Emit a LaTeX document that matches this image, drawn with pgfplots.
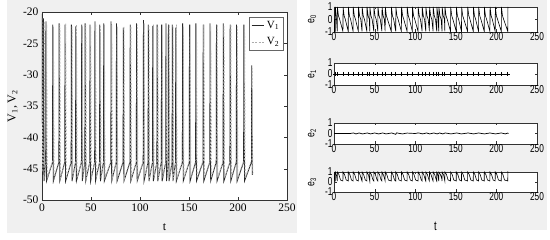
\documentclass[border=0pt]{standalone}
\usepackage{pgfplots}
\pgfplotsset{compat=1.18}
\usepackage{fontspec}
\setmainfont{Liberation Serif}
\newfontfamily\rsans[FakeStretch=0.72]{Liberation Sans}

\pgfplotsset{
  mlab/.style={
    scale only axis, xmin=0, xmax=250, xtick={0,50,...,250},
    tick align=inside, axis line style={black!80}, tick style={black!80},
    axis background/.style={fill=white},
    /pgf/number format/assume math mode=true,
  },
  small/.style={
    mlab, width=203pt, ymin=-1, ymax=1, ytick={-1,0,1},
    major tick length=2.5pt,
    ticklabel style={font=\rsans\fontsize{11.5}{11.5}\selectfont, inner xsep=1.2pt, inner ysep=0.4pt,
      text height=8pt, text depth=0pt},
    every axis y label/.style={at={(axis description cs:-0.108,0.5)}, rotate=90, anchor=center, font=\rsans\fontsize{12}{12}\selectfont},
  },
}

\begin{document}
\begin{tikzpicture}
\useasboundingbox (0,0) rectangle (550pt,240pt);
\fill[gray!12] (7pt,7pt) rectangle (297pt,240pt);
\fill[gray!12] (310pt,10pt) rectangle (547pt,240pt);

% left: membrane potentials
\begin{axis}[mlab, at={(42pt,40pt)}, anchor=south west,
    width=245pt, height=188pt,
    ymin=-50, ymax=-20, ytick={-50,-45,...,-20},
    major tick length=3pt,
    ticklabel style={font=\fontsize{11.5}{11.5}\selectfont},
    xlabel={t}, ylabel={V\textsubscript{1}, V\textsubscript{2}},
    label style={font=\fontsize{12}{12}\selectfont},
    xlabel style={at={(axis description cs:0.5,-0.145)}, anchor=center},
    ylabel style={at={(axis description cs:-0.12,0.5)}, anchor=center},
    legend style={at={(0.985,0.975)}, anchor=north east, draw=black!60,
      font=\fontsize{11}{11}\selectfont, inner sep=2pt, row sep=4pt},
    legend cell align=left,
    legend image post style={xscale=0.75},
]
\addplot[black!85, line width=0.8pt] coordinates {
(0,-20.3) (0.6,-46) (1.2,-44) (1.5,-21) (2.1,-47) (3.7,-44) (4,-21.5) (4.6,-47)
(10.7,-44) (11,-22) (11.6,-47)
(17.2,-44) (17.5,-21.8) (18.1,-47)
(23.2,-44) (23.5,-22) (24.1,-47)
(29.7,-44) (30,-22) (30.6,-47)
(34.2,-44) (34.5,-22.3) (35.1,-47)
(40.2,-44) (40.5,-22) (41.1,-47)
(43.7,-44) (44,-21.8) (44.6,-47)
(48.7,-44) (49,-22) (49.6,-47)
(53.7,-44) (54,-21.5) (54.6,-47)
(58.7,-44) (59,-22) (59.6,-47)
(62.7,-44) (63,-21.8) (63.6,-47)
(70.2,-44) (70.5,-21.5) (71.1,-47)
(75.7,-44) (76,-21.8) (76.6,-47)
(82.7,-44) (83,-22.5) (83.6,-47)
(89.7,-44) (90,-22) (90.6,-47)
(96.2,-44) (96.5,-21.8) (97.1,-47)
(103.2,-44) (103.5,-21.3) (104.1,-47)
(108.2,-44) (108.5,-22) (109.1,-47)
(112.7,-44) (113,-22.2) (113.6,-47)
(117.2,-44) (117.5,-22) (118.1,-47)
(121.7,-44) (122,-22) (122.6,-47)
(126.2,-44) (126.5,-21.8) (127.1,-47)
(128.7,-44) (129,-22) (129.6,-47)
(132.7,-44) (133,-22) (133.6,-47)
(136.2,-44) (136.5,-22.5) (137.1,-47)
(143.2,-44) (143.5,-21.8) (144.1,-47)
(150.2,-44) (150.5,-22) (151.1,-47)
(156.7,-44) (157,-21.8) (157.6,-47)
(164.2,-44) (164.5,-22) (165.1,-47)
(171.2,-44) (171.5,-21.8) (172.1,-47)
(177.7,-44) (178,-22) (178.6,-47)
(184.7,-44) (185,-21.8) (185.6,-47)
(191.7,-44) (192,-22) (192.6,-47)
(198.2,-44) (198.5,-22) (199.1,-47)
(205.7,-44) (206,-22) (206.6,-47)
(213.7,-44) (214,-28.5) (214.6,-46) (215,-45.5)
};
\addlegendentry{V\textsubscript{1}}
\addplot[gray!65, line width=0.8pt, dash pattern=on 2pt off 1.5pt] coordinates {
(0,-21) (0.7,-45.5) (1.9,-43.5) (2.2,-21.5) (2.8,-46.5) (4.4,-43.5) (4.7,-22) (5.3,-46.5)
(11.4,-43.5) (11.7,-22.3) (12.3,-46.5)
(17.9,-43.5) (18.2,-22) (18.8,-46.5)
(23.9,-43.5) (24.2,-21.8) (24.8,-46.5)
(30.4,-43.5) (30.7,-22.3) (31.3,-46.5)
(34.9,-43.5) (35.2,-22) (35.8,-46.5)
(40.9,-43.5) (41.2,-22.3) (41.8,-46.5)
(44.4,-43.5) (44.7,-22) (45.3,-46.5)
(49.4,-43.5) (49.7,-22.3) (50.3,-46.5)
(54.4,-43.5) (54.7,-22) (55.3,-46.5)
(59.4,-43.5) (59.7,-22.3) (60.3,-46.5)
(63.4,-43.5) (63.7,-22) (64.3,-46.5)
(70.9,-43.5) (71.2,-22) (71.8,-46.5)
(76.4,-43.5) (76.7,-22.3) (77.3,-46.5)
(83.4,-43.5) (83.7,-22.3) (84.3,-46.5)
(90.4,-43.5) (90.7,-22.3) (91.3,-46.5)
(96.9,-43.5) (97.2,-22) (97.8,-46.5)
(103.9,-43.5) (104.2,-21.8) (104.8,-46.5)
(108.9,-43.5) (109.2,-22.3) (109.8,-46.5)
(113.4,-43.5) (113.7,-22) (114.3,-46.5)
(117.9,-43.5) (118.2,-22.3) (118.8,-46.5)
(122.4,-43.5) (122.7,-22) (123.3,-46.5)
(126.9,-43.5) (127.2,-22.3) (127.8,-46.5)
(129.4,-43.5) (129.7,-22) (130.3,-46.5)
(133.4,-43.5) (133.7,-22.3) (134.3,-46.5)
(136.9,-43.5) (137.2,-22) (137.8,-46.5)
(143.9,-43.5) (144.2,-22.3) (144.8,-46.5)
(150.9,-43.5) (151.2,-22) (151.8,-46.5)
(157.4,-43.5) (157.7,-22.3) (158.3,-46.5)
(164.9,-43.5) (165.2,-22) (165.8,-46.5)
(171.9,-43.5) (172.2,-22.3) (172.8,-46.5)
(178.4,-43.5) (178.7,-22) (179.3,-46.5)
(185.4,-43.5) (185.7,-22.3) (186.3,-46.5)
(192.4,-43.5) (192.7,-22) (193.3,-46.5)
(198.9,-43.5) (199.2,-22.3) (199.8,-46.5)
(206.4,-43.5) (206.7,-22) (207.3,-46.5)
(214.2,-43.5) (214.5,-29) (215,-46)
};
\addlegendentry{V\textsubscript{2}}
\end{axis}

% right: e0
\begin{axis}[small, at={(334pt,208pt)}, anchor=south west, height=25pt,
    ylabel={e\textsubscript{0}}]
\addplot[black, line width=0.6pt] coordinates {
(0,1) (0.5,-1) (1.5,-0.95) (1.7,1) (2.8,0.3)
(4,-0.95) (4.2,1) (5.5,0.3) (7,0)
(11,-0.95) (11.2,1) (12.5,0.3) (14,0)
(17.5,-0.95) (17.7,1) (19,0.3) (20.5,0)
(23.5,-0.95) (23.7,1) (25,0.3) (26.5,0)
(30,-0.95) (30.2,1) (31.5,0.3) (33,0)
(34.5,-0.95) (34.7,1) (36,0.3) (37.5,0)
(40.5,-0.95) (40.7,1) (42,0.3) (43.5,0)
(44,-0.95) (44.2,1) (45.5,0.3) (47,0)
(49,-0.95) (49.2,1) (50.5,0.3) (52,0)
(54,-0.95) (54.2,1) (55.5,0.3) (57,0)
(59,-0.95) (59.2,1) (60.5,0.3) (62,0)
(63,-0.95) (63.2,1) (64.5,0.3) (66,0)
(70.5,-0.95) (70.7,1) (72,0.3) (73.5,0)
(76,-0.95) (76.2,1) (77.5,0.3) (79,0)
(83,-0.95) (83.2,1) (84.5,0.3) (86,0)
(90,-0.95) (90.2,1) (91.5,0.3) (93,0)
(96.5,-0.95) (96.7,1) (98,0.3) (99.5,0)
(103.5,-0.95) (103.7,1) (105,0.3) (106.5,0)
(108.5,-0.95) (108.7,1) (110,0.3) (111.5,0)
(113,-0.95) (113.2,1) (114.5,0.3) (116,0)
(117.5,-0.95) (117.7,1) (119,0.3) (120.5,0)
(122,-0.95) (122.2,1) (123.5,0.3) (125,0)
(126.5,-0.95) (126.7,1) (128,0.3)
(129,-0.95) (129.2,1) (130.5,0.3) (132,0)
(133,-0.95) (133.2,1) (134.5,0.3) (136,0)
(136.5,-0.95) (136.7,1) (138,0.3) (139.5,0)
(143.5,-0.95) (143.7,1) (145,0.3) (146.5,0)
(150.5,-0.95) (150.7,1) (152,0.3) (153.5,0)
(157,-0.95) (157.2,1) (158.5,0.3) (160,0)
(164.5,-0.95) (164.7,1) (166,0.3) (167.5,0)
(171.5,-0.95) (171.7,1) (173,0.3) (174.5,0)
(178,-0.95) (178.2,1) (179.5,0.3) (181,0)
(185,-0.95) (185.2,1) (186.5,0.3) (188,0)
(192,-0.95) (192.2,1) (193.5,0.3) (195,0)
(198.5,-0.95) (198.7,1) (200,0.3) (201.5,0)
(206,-0.95) (206.2,1) (207.5,0.3) (209,0)
(214,-0.95) (214.2,1) (214.5,0.9)
};
\end{axis}

% right: e1
\begin{axis}[small, at={(334pt,155pt)}, anchor=south west, height=22pt,
    ylabel={e\textsubscript{1}}]
\addplot[black, line width=0.8pt] coordinates {(0,0) (215,0)};
\addplot[black, only marks, mark=+, mark size=2.2pt, mark options={line width=0.7pt}] coordinates {
(1.5,0) (4,0) (11,0) (17.5,0) (23.5,0) (30,0) (34.5,0) (40.5,0) (44,0) (49,0)
(54,0) (59,0) (63,0) (70.5,0) (76,0) (83,0) (90,0) (96.5,0) (103.5,0) (108.5,0)
(113,0) (117.5,0) (122,0) (126.5,0) (129,0) (133,0) (136.5,0) (143.5,0) (150.5,0)
(157,0) (164.5,0) (171.5,0) (178,0) (185,0) (192,0) (198.5,0) (206,0) (214,0)
};
\end{axis}

% right: e2
\begin{axis}[small, at={(334pt,96pt)}, anchor=south west, height=21pt,
    ylabel={e\textsubscript{2}}]
\addplot[black, line width=0.7pt] coordinates {
(0,0) (20,0) (24,0.05) (27,-0.04) (31,0.05) (35,-0.04) (41,0.05) (45,-0.04)
(50,0.05) (55,-0.04) (60,0.05) (64,-0.04) (71,0.05) (76,-0.08) (77,0.06) (84,-0.04)
(90,0.04) (100,0) (104,0.06) (109,-0.04) (114,0.05) (118,-0.04) (123,0.05) (127,-0.04)
(130,0.05) (134,-0.04) (137,0.05) (144,-0.04) (151,0.05) (157,-0.04) (165,0.05)
(172,-0.04) (178,0.05) (185,-0.04) (192,0.05) (199,-0.04) (206,0.05) (211,-0.04)
(214,0.04) (215,0)
};
\end{axis}

% right: e3
\begin{axis}[small, at={(334pt,48pt)}, anchor=south west, height=20pt,
    ylabel={e\textsubscript{3}}, xlabel={t},
    xlabel style={at={(axis description cs:0.5,0)}, anchor=center, yshift=-34pt,
      font=\rsans\fontsize{13}{13}\selectfont}]
\addplot[black, line width=0.6pt] coordinates {
(0,1) (0.8,0.1)
(1.5,0.1) (1.6,1) (3,0.7)
(4,0.1) (4.1,1) (6,0.75) (8,0.2)
(11,0.1) (11.1,1) (13,0.75) (15,0.2)
(17.5,0.1) (17.6,1) (19.5,0.75) (21.5,0.2)
(23.5,0.1) (23.6,1) (25.5,0.75) (27.5,0.2)
(30,0.1) (30.1,1) (32,0.75) (34,0.2)
(34.5,0.1) (34.6,1) (36.5,0.75) (38.5,0.2)
(40.5,0.1) (40.6,1) (42.5,0.7)
(44,0.1) (44.1,1) (46,0.75) (48,0.2)
(49,0.1) (49.1,1) (51,0.75) (53,0.2)
(54,0.1) (54.1,1) (56,0.75) (58,0.2)
(59,0.1) (59.1,1) (61,0.7)
(63,0.1) (63.1,1) (65,0.75) (67,0.2)
(70.5,0.1) (70.6,1) (72.5,0.75) (74.5,0.2)
(76,0.1) (76.1,1) (78,0.75) (80,0.2)
(83,0.1) (83.1,1) (85,0.75) (87,0.2)
(90,0.1) (90.1,1) (92,0.75) (94,0.2)
(96.5,0.1) (96.6,1) (98.5,0.75) (100.5,0.2)
(103.5,0.1) (103.6,1) (105.5,0.75) (107.5,0.2)
(108.5,0.1) (108.6,1) (110.5,0.75) (112.5,0.2)
(113,0.1) (113.1,1) (115,0.75) (117,0.2)
(117.5,0.1) (117.6,1) (119.5,0.75) (121.5,0.2)
(122,0.1) (122.1,1) (124,0.75) (126,0.2)
(126.5,0.1) (126.6,1) (128,0.7)
(129,0.1) (129.1,1) (131,0.75) (132.8,0.3)
(133,0.1) (133.1,1) (135,0.7)
(136.5,0.1) (136.6,1) (138.5,0.75) (140.5,0.2)
(143.5,0.1) (143.6,1) (145.5,0.75) (147.5,0.2)
(150.5,0.1) (150.6,1) (152.5,0.75) (154.5,0.2)
(157,0.1) (157.1,1) (159,0.75) (161,0.2)
(164.5,0.1) (164.6,1) (166.5,0.75) (168.5,0.2)
(171.5,0.1) (171.6,1) (173.5,0.75) (175.5,0.2)
(178,0.1) (178.1,1) (180,0.75) (182,0.2)
(185,0.1) (185.1,1) (187,0.75) (189,0.2)
(192,0.1) (192.1,1) (194,0.75) (196,0.2)
(198.5,0.1) (198.6,1) (200.5,0.75) (202.5,0.2)
(206,0.1) (206.1,1) (208,0.75) (210,0.2)
(214,0.1) (214.1,1) (214.5,0.9)
};
\end{axis}
\end{tikzpicture}
\end{document}
